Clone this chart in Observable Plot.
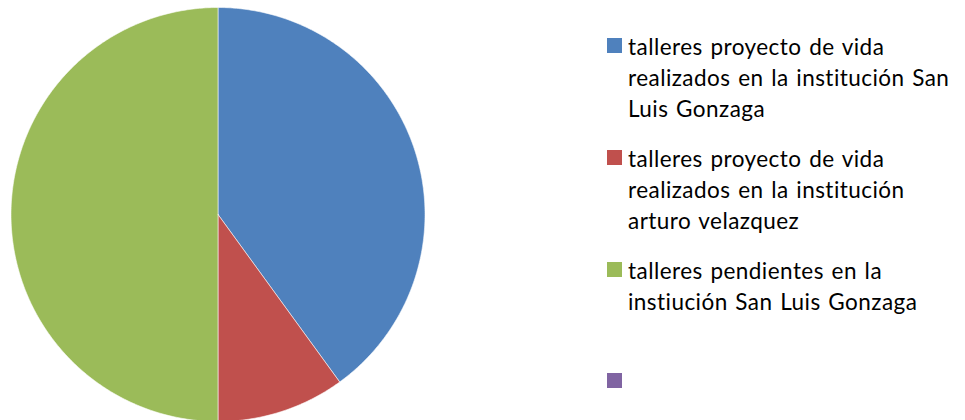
<!DOCTYPE html>
<html>
<head>
<meta charset="utf-8">
<script src="https://cdn.jsdelivr.net/npm/d3@7"></script>
<script src="https://cdn.jsdelivr.net/npm/@observablehq/plot@0.6"></script>
<style>
  html, body { margin: 0; padding: 0; background: #fff; }
  #wrap { position: relative; width: 965px; height: 420px; overflow: hidden; }
  #legend { position: absolute; left: 607px; top: 0; font-family: Lato, "Open Sans", sans-serif; font-size: 22.5px; letter-spacing: 0.45px; word-spacing: 1.5px; line-height: 31px; color: #000; }
  .item { position: absolute; left: 0; white-space: nowrap; }
  .sw { position: absolute; left: 0; width: 15px; height: 15px; }
  .txt { position: absolute; left: 21px; top: 0; }
</style>
</head>
<body>
<div id="wrap"><div id="legend"></div></div>
<script>
// Data
const categories = [
  "talleres proyecto de vida realizados en la institución San Luis Gonzaga",
  "talleres proyecto de vida realizados en la institución arturo velazquez",
  "talleres pendientes en la instiución San Luis Gonzaga",
  ""
];
const values = [4, 1, 5, 0];
const colors = ["#4F81BD", "#C0504D", "#9BBB59", "#8064A2"];
const legendLines = [
  ["talleres proyecto de vida", "realizados en la institución San", "Luis Gonzaga"],
  ["talleres proyecto de vida", "realizados en la institución", "arturo velazquez"],
  ["talleres pendientes en la", "instiución San Luis Gonzaga"],
  [""]
];

// Pie geometry from the data (clockwise from 12 o'clock)
const pie = d3.pie().sort(null).value(d => d.value)(
  categories.map((c, i) => ({cat: c, value: values[i], idx: i}))
);
const pts = [];
for (const s of pie) {
  if (s.endAngle - s.startAngle <= 0) continue;
  const key = s.data.idx;
  pts.push({k: key, x: 0, y: 0});
  const n = Math.max(2, Math.ceil((s.endAngle - s.startAngle) / 0.01));
  for (let j = 0; j <= n; j++) {
    const a = s.startAngle + (s.endAngle - s.startAngle) * j / n;
    pts.push({k: key, x: Math.sin(a), y: Math.cos(a)});
  }
  pts.push({k: key, x: 0, y: 0});
}

const chart = Plot.plot({
  width: 965,
  height: 420,
  margin: 0,
  x: {domain: [-1, 1], range: [10.5, 424.5], axis: null},
  y: {domain: [-1, 1], range: [421, 7], axis: null},
  color: {domain: d3.range(categories.length), range: colors},
  marks: [
    Plot.line(pts, {x: "x", y: "y", z: "k", fill: "k", stroke: "white", strokeWidth: 0.8, strokeOpacity: 0.7, curve: "linear"})
  ]
});
const wrap = document.getElementById("wrap");
wrap.insertBefore(chart, wrap.firstChild);

// Legend
const itemTops = [31, 143, 255, 366];
const legend = d3.select("#legend");
legendLines.forEach((lines, i) => {
  const it = legend.append("div").attr("class", "item").style("top", itemTops[i] + "px");
  it.append("div").attr("class", "sw").style("top", "7px").style("background", colors[i]);
  it.append("div").attr("class", "txt").html(lines.map(l => l || "&nbsp;").join("<br>"));
});
</script>
</body>
</html>
